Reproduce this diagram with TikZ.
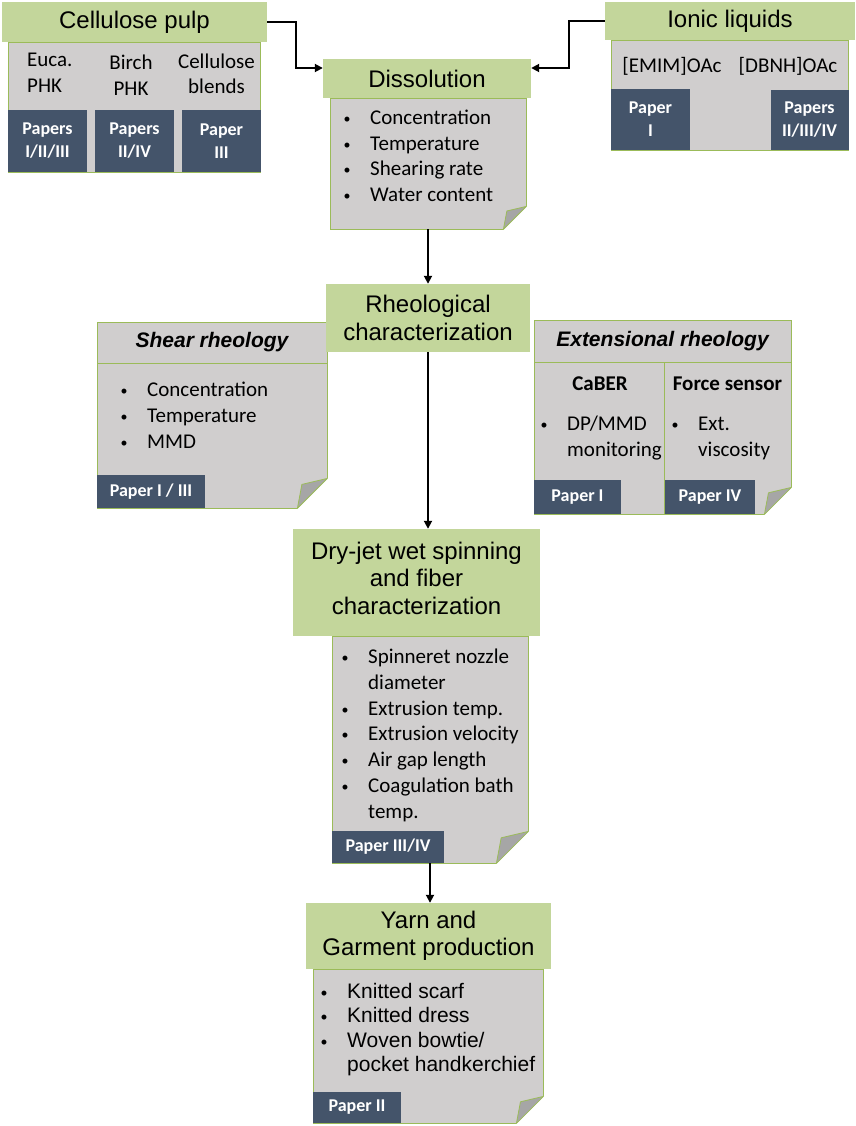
\documentclass[tikz,border=0pt]{standalone}
\usepackage{fontspec}
\setmainfont{Carlito}
\newfontfamily\arialfont{Liberation Sans}
\usetikzlibrary{arrows.meta,positioning,calc}

\definecolor{headgreen}{HTML}{C3D69B}
\definecolor{notegray}{HTML}{D0CECE}
\definecolor{notegreen}{HTML}{9BBB59}
\definecolor{paperblue}{HTML}{44546A}
\definecolor{flapgray}{HTML}{A6A6A6}

\newcommand{\bul}{\llap{\raisebox{1pt}{\normalfont\fontsize{14}{14}\selectfont\textbullet}\hspace{19.5pt}}}
% folded corner of a note: node name, size
\newcommand{\fold}[2]{%
  \fill[white] ([xshift=1pt,yshift=#2+1pt]#1.south east) -- ([xshift=1pt,yshift=-1pt]#1.south east)
      -- ([xshift=-#2-1pt,yshift=-1pt]#1.south east) -- cycle;
  \filldraw[fill=flapgray,draw=notegreen,line width=0.8pt,line join=round]
      ([yshift=#2]#1.south east) -- ([xshift=-#2]#1.south east)
      -- ([xshift=-0.85*#2,yshift=0.8*#2]#1.south east) -- cycle;
}

\begin{document}
\begin{tikzpicture}[
    x=1pt, y=-1pt,
    >={Triangle[length=8pt,width=8pt]},
    head/.style={
        fill=headgreen,
        inner sep=0pt,
        align=center,
        font=\arialfont\fontsize{24}{27.5}\selectfont
    },
    note/.style={
        fill=notegray,
        draw=notegreen,
        line width=0.8pt,
        inner sep=0pt
    },
    tag/.style={
        fill=paperblue,
        text=white,
        inner sep=0pt,
        align=center,
        font=\bfseries\fontsize{18}{23}\selectfont
    },
    body/.style={
        inner sep=0pt,
        anchor=base west,
        align=left,
        font=\fontsize{21}{25.8}\selectfont
    },
    title/.style={
        inner sep=0pt,
        anchor=base,
        font=\arialfont\bfseries\itshape\fontsize{21}{25}\selectfont
    },
    flow/.style={
        ->,
        line width=1.8pt
    }
    ]
    \useasboundingbox (0,0) rectangle (855,1126);

    % notes
    \node[note, minimum width=252pt, minimum height=130pt] (pulpbox) at (134,107) {};
    \node[note, minimum width=237pt, minimum height=110pt] (ionicbox) at (729.5,95) {};
    \node[note, minimum width=196pt, minimum height=131pt] (dissbox) at (428,163.5) {};
    \node[note, minimum width=230pt, minimum height=186pt] (shearbox) at (212,415) {};
    \node[note, minimum width=257pt, minimum height=194pt] (extbox) at (662.5,417) {};
    \node[note, minimum width=196pt, minimum height=227pt] (spinbox) at (430,749.5) {};
    \node[note, minimum width=230pt, minimum height=154pt] (yarnbox) at (428,1046) {};
    \fold{dissbox}{23pt}
    \fold{shearbox}{30pt}
    \fold{extbox}{27pt}
    \fold{spinbox}{32pt}
    \fold{yarnbox}{27pt}

    \draw[notegreen, line width=0.8pt] (97,363) -- (327,363);
    \draw[notegreen, line width=0.8pt] (534,362) -- (791,362);
    \draw[notegreen, line width=0.8pt] (664,362) -- (664,514);

    % headers
    \node[head, minimum width=265pt, minimum height=40pt] (pulp) at (134.5,22) {Cellulose pulp};
    \node[head, minimum width=250pt, minimum height=38pt] (ionic) at (730,21) {Ionic liquids};
    \node[head, minimum width=208pt, minimum height=39pt] (disshead) at (427,78.5) {Dissolution};
    \node[head, minimum width=204pt, minimum height=68pt] (rheohead) at (428,318) {Rheological\\characterization};
    \node[head, minimum width=247pt, minimum height=107pt] (spinhead) at (416.5,582.5) {Dry-jet wet spinning\\and fiber\\characterization\\[-19pt]};
    \node[head, minimum width=245pt, minimum height=66pt] (yarnhead) at (428.5,936) {Yarn and\\Garment production};

    % contents
    \node[body] (euca) at (27,92.7) {Euca.\\PHK};
    \node[body, anchor=base, align=center] (birch) at (131,95.5) {Birch\\PHK};
    \node[body, anchor=base, align=center] (blends) at (216.5,94) {Cellulose\\blends};
    \node[body, anchor=base] (emim) at (672,72.7) {[EMIM]OAc};
    \node[body, anchor=base] (dbnh) at (788,72.7) {[DBNH]OAc};

    \node[body] (disslist) at (370,201.7) {\bul Concentration\\\bul Temperature\\\bul Shearing rate\\\bul Water content};
    \node[title] (sheartitle) at (212,347.7) {Shear rheology};
    \node[body] (shearlist) at (147,448.3) {\bul Concentration\\\bul Temperature\\\bul MMD};
    \node[title] (exttitle) at (662.5,346) {Extensional rheology};
    \node[body, anchor=base, font=\bfseries\fontsize{21}{25}\selectfont] (caber) at (600,390) {CaBER};
    \node[body, anchor=base, font=\bfseries\fontsize{21}{25}\selectfont] (force) at (727.5,390) {Force sensor};
    \node[body] (caberlist) at (567,456.7) {\bul DP/MMD\\monitoring};
    \node[body] (forcelist) at (698,456.7) {\bul Ext.\\viscosity};
    \node[body] (spinlist) at (368,818.3) {\bul Spinneret nozzle\\diameter\\\bul Extrusion temp.\\\bul Extrusion velocity\\\bul Air gap length\\\bul Coagulation bath\\temp.};
    \node[body, font=\arialfont\fontsize{21}{24.5}\selectfont] (yarnlist) at (347,1071.7) {\bul Knitted scarf\\\bul Knitted dress\\\bul Woven bowtie/\\pocket handkerchief};

    % paper tags
    \node[tag, minimum width=79pt, minimum height=62pt] (pap1) at (47.5,141) {Papers\\I/II/III};
    \node[tag, minimum width=79pt, minimum height=62pt] (pap2) at (134.5,141) {Papers\\II/IV};
    \node[tag, minimum width=79pt, minimum height=62pt] (pap3) at (221.5,141) {Paper\\III};
    \node[tag, minimum width=79pt, minimum height=61pt] (pap4) at (650.5,119.5) {Paper\\I};
    \node[tag, minimum width=78pt, minimum height=60pt] (pap5) at (809.5,120) {Papers\\II/III/IV};
    \node[tag, minimum width=108pt, minimum height=33pt] (pap6) at (151,491.5) {Paper I / III};
    \node[tag, minimum width=87pt, minimum height=34pt] (pap7) at (577.5,497) {Paper I};
    \node[tag, minimum width=90pt, minimum height=34pt] (pap8) at (710,497) {Paper IV};
    \node[tag, minimum width=112pt, minimum height=32pt] (pap9) at (388,847) {Paper III/IV};
    \node[tag, minimum width=88pt, minimum height=31pt] (pap10) at (357,1107.5) {Paper II};

    % connectors
    \draw[flow] (pulp.east) -- ++(29,0) |- ([yshift=10.5pt]disshead.west);
    \draw[flow] (ionic.west) -- ++(-36,0) |- ([yshift=10.5pt]disshead.east);
    \draw[flow] (dissbox.south) -- (rheohead.north);
    \draw[flow] (rheohead.south) -- (rheohead.south |- spinhead.north);
    \draw[flow] (spinbox.south) -- (spinbox.south |- yarnhead.north);
\end{tikzpicture}
\end{document}
